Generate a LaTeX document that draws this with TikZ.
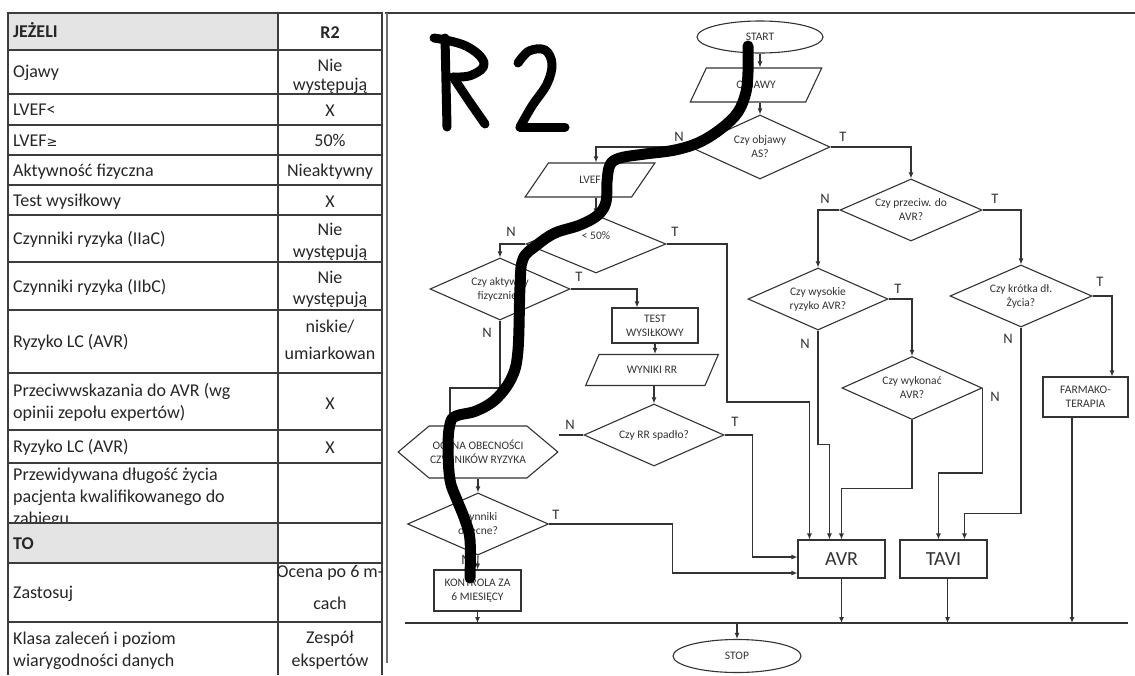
\documentclass[tikz,border=0pt]{standalone}
\usepackage{fontspec}
\setmainfont{Carlito}
\newfontfamily\djv{DejaVu Sans}
\usetikzlibrary{shapes.geometric,shapes.symbols,calc,arrows.meta}
\definecolor{ln}{HTML}{333333}
\definecolor{tl}{HTML}{3C3C3C}
\definecolor{hd}{HTML}{E4E4E4}
\definecolor{tx}{HTML}{262626}
\begin{document}
\begin{tikzpicture}[x=1pt,y=-1pt,
  fc/.style={draw=ln, line width=1.1pt, text=ln, font=\fontsize{11.5}{14}\selectfont, align=center, inner sep=1pt},
  dec/.style={fc, diamond, aspect=2.3, minimum width=140pt, minimum height=62pt},
  para/.style={fc, trapezium, trapezium left angle=55, trapezium right angle=125, trapezium stretches=true, minimum width=132pt, minimum height=34pt},
  boxn/.style={fc, rectangle},
  term/.style={fc, ellipse, minimum width=126pt, minimum height=32pt},
  arr/.style={draw=ln, line width=1.1pt, -{Latex[length=6pt,width=5pt]}},
  cn/.style={draw=ln, line width=1.1pt},
  lab/.style={text=ln, font=\fontsize{14.5}{14.5}\selectfont, inner sep=0pt},
  mk/.style={black, line width=11pt, line cap=round, line join=round},
  tline/.style={draw=tl, line width=2pt},
  tb/.style={text=tx, font=\fontsize{18}{21}\selectfont, inner sep=0pt},
  tbl/.style={tb, anchor=base west},
  tbc/.style={tb, anchor=base}
]
\useasboundingbox (0,0) rectangle (1135,675);
\fill[white] (0,0) rectangle (1135,675);

% ---------------- table ----------------
\fill[hd] (8,13) rectangle (278,50);
\fill[hd] (8,523) rectangle (278,563);
\begin{scope}
\clip (8,463) rectangle (278,522);
\node[tbl] (c12a) at (13,480) {Przewidywana długość życia};
\node[tbl] (c12b) at (13,502) {pacjenta kwalifikowanego do};
\node[tbl] (c12c) at (13,524) {zabiegu};
\end{scope}
\foreach \yy in {13,50,94,125,155,185,215,262,310,373,430,463,523,563,622}
  \draw[tline] (8,\yy) -- (382,\yy);
\draw[tline] (8,12) -- (8,675);
\draw[tline] (278,12) -- (278,675);
\draw[tline] (382,12) -- (382,675);

\node[tbl] (c1) at (13,37) {\bfseries JEŻELI};
\node[tbl] (c2) at (13,77) {Ojawy};
\node[tbl] (c3) at (13,115) {LVEF<};
\node[tbl] (c4) at (13,146) {LVEF{\djv\fontsize{13}{13}\selectfont ≥}};
\node[tbl] (c5) at (13,176) {Aktywność fizyczna};
\node[tbl] (c6) at (13,206) {Test wysiłkowy};
\node[tbl] (c7) at (13,244) {Czynniki ryzyka (IIaC)};
\node[tbl] (c8) at (13,292) {Czynniki ryzyka (IIbC)};
\node[tbl] (c9) at (13,347) {Ryzyko LC (AVR)};
\node[tbl] (c10a) at (13,396) {Przeciwwskazania do AVR (wg};
\node[tbl] (c10b) at (13,418) {opinii zepołu expertów)};
\node[tbl] (c11) at (13,452) {Ryzyko LC (AVR)};
\node[tbl] (c13) at (13,549) {\bfseries TO};
\node[tbl] (c14) at (13,598) {Zastosuj};
\node[tbl] (c15a) at (13,644) {Klasa zaleceń i poziom};
\node[tbl] (c15b) at (13,666) {wiarygodności danych};

\node[tbc] (d1) at (330,38) {\bfseries R2};
\node[tbc] (d2a) at (330,71) {Nie};
\node[tbc] (d2b) at (330,90) {występują};
\node[tbc] (d3) at (330,116) {X};
\node[tbc] (d4) at (330,146) {50\%};
\node[tbc] (d5) at (330,176) {Nieaktywny};
\node[tbc] (d6) at (330,207) {X};
\node[tbc] (d7a) at (330,235) {Nie};
\node[tbc] (d7b) at (330,257) {występują};
\node[tbc] (d8a) at (330,283) {Nie};
\node[tbc] (d8b) at (330,304) {występują};
\node[tbc] (d9a) at (330,332) {niskie/};
\node[tbc] (d9b) at (330,359) {umiarkowan};
\node[tbc] (d10) at (330,409) {X};
\node[tbc] (d11) at (330,453) {X};
\node[tbc] (d14a) at (330,577) {Ocena po 6 m-};
\node[tbc] (d14b) at (330,609) {cach};
\node[tbc] (d15a) at (330,643) {Zespół};
\node[tbc] (d15b) at (330,666) {ekspertów};

% ---------------- flowchart frame ----------------
\draw[draw=tl, line width=1.8pt] (385,13) -- (1135,13);
\draw[draw=ln!70, line width=1.2pt] (387,13) -- (387,663);

% ---------------- nodes ----------------
\node[term] (start) at (760,37) {START};
\node[para] (objawy) at (756,85) {OBJAWY};
\node[dec, minimum height=64pt] (asq) at (760,147) {Czy objawy\\AS?};
\node[para, minimum width=130pt] (lvef) at (590,180) {LVEF};
\node[dec, minimum height=58pt] (lt50) at (596,244) {};
\node[fc, draw=none] (lt50t) at (596,236) {< 50\%};
\node[dec] (akt) at (500,289) {Czy aktywny\\fizycznie?};
\node[boxn, minimum width=86pt, minimum height=35pt] (test) at (655,325.5) {TEST\\WYSIŁKOWY};
\node[para, minimum width=133pt, minimum height=31pt] (wyn) at (652,370) {WYNIKI RR};
\node[dec] (rr) at (654,435) {Czy RR spadło?};
\node[fc, signal, signal to=west and east, signal pointer angle=80, minimum width=157pt, minimum height=52pt] (hex) at (478,452) {OCENA OBECNOŚCI\\CZYNNIKÓW RYZYKA};
\node[dec, minimum width=141pt] (czo) at (478,524) {Czynniki\\obecne?};
\node[boxn, minimum width=87pt, minimum height=41pt] (kon) at (477.5,590.5) {KONTROLA ZA\\6 MIESIĘCY};
\node[dec, minimum width=142pt] (prz) at (911,210) {Czy przeciw. do\\AVR?};
\node[dec] (wys) at (818,299) {Czy wysokie\\ryzyko AVR?};
\node[dec, minimum height=63pt] (wyk) at (912,388) {Czy wykonać\\AVR?};
\node[dec, minimum width=142pt] (kro) at (1021,296) {Czy krótka dł.\\Życia?};
\node[boxn, minimum width=85pt, minimum height=40pt] (farm) at (1085.5,397) {FARMAKO-\\TERAPIA};
\node[boxn, minimum width=87pt, minimum height=38pt, font=\fontsize{20}{20}\selectfont] (avr) at (841.5,559) {AVR};
\node[boxn, minimum width=87pt, minimum height=38pt, font=\fontsize{20}{20}\selectfont] (tavi) at (943.5,559) {TAVI};
\node[term, minimum width=128pt, minimum height=33pt] (stop) at (737,656) {STOP};
\coordinate (bl) at (405,623);
\coordinate (br) at (1128,623);
\coordinate (fa) at ($(farm.south)+(-13.5,0)$);
\coordinate (ta) at ($(tavi.south)+(4,0)$);

% ---------------- connectors ----------------
\draw[arr] (start.south) -- (start.south |- objawy.north);
\draw[arr] (objawy.south -| asq.north) -- (asq.north);
\draw[arr] (asq.west) -| (lt50.north |- lvef.north);
\draw[arr] (lt50.north |- lvef.south) -- (lt50.north);
\draw[arr] (asq.east) -| (prz.north);
\draw[arr] (lt50.east) -| (727,402) -| ($(avr.north west)+(12,0)$);
\draw[arr] (lt50.west) -| (akt.north);
\draw[arr] (akt.east) -| ($(test.north)+(-18,0)$);
\draw[arr] (akt.south) -- (500,388) -| ($(hex.north)+(-28,0)$);
\draw[arr] (test.south) -- (test.south |- wyn.north);
\draw[arr] (wyn.south -| rr.north) -- (rr.north);
\draw[cn] (rr.west) -- (rr.west -| hex.east);
\draw[arr] (rr.east) -| ($(avr.west)+(-45,-2)$) -- ($(avr.west)+(0,-2)$);
\draw[arr] (hex.south) -- (czo.north);
\draw[arr] (czo.east) -| ($(avr.west)+(-125,14)$) -- ($(avr.west)+(0,14)$);
\draw[arr] (czo.south) -- (kon.north);
\draw[arr] (kon.south) -- (kon.south |- bl);
\draw[arr] (prz.west) -| (wys.north);
\draw[arr] (prz.east) -| (kro.north);
\draw[arr] (wys.south) |- ($(avr.north west)+(32,-95)$) -- ($(avr.north west)+(32,0)$);
\draw[arr] (wys.east) -| (wyk.north);
\draw[arr] (wyk.south) |- ($(avr.north west)+(44,-51)$) -- ($(avr.north west)+(44,0)$);
\draw[arr] (wyk.east) -- ++(0,85) -| ($(tavi.north west)+(39,0)$);
\draw[arr] (kro.south) |- ($(tavi.north west)+(65,-26)$) -- ($(tavi.north west)+(65,0)$);
\draw[arr] (kro.east) -| ($(farm.north)+(26.5,0)$);
\draw[arr] (fa) -- (fa |- bl);
\draw[arr] (avr.south) -- (avr.south |- bl);
\draw[arr] (ta) -- (ta |- bl);
\draw[cn] (bl) -- (br);
\draw[arr] (stop.north |- bl) -- (stop.north);

% ---------------- labels ----------------
\node[lab] (l1) at (679,137) {N};
\node[lab] (l2) at (843,137) {T};
\node[lab] (l3) at (511,232) {N};
\node[lab] (l4) at (675,232) {T};
\node[lab] (l5) at (579,277) {T};
\node[lab] (l6) at (487,333) {N};
\node[lab] (l7) at (570,425) {N};
\node[lab] (l8) at (735,422) {T};
\node[lab] (l9) at (556,515) {T};
\node[lab] (l10) at (466,560) {N};
\node[lab] (l11) at (825,199) {N};
\node[lab] (l12) at (995,199) {T};
\node[lab] (l13) at (898,289) {T};
\node[lab] (l14) at (805,344) {N};
\node[lab] (l15) at (995,397) {N};
\node[lab] (l16) at (1100,282) {T};
\node[lab] (l17) at (1008,339) {N};

% ---------------- hand-drawn marker ----------------
\draw[mk] (748,46) -- (748,72) plot[smooth, tension=0.6] coordinates {(748,72) (746,92) (738,112) (722,128) (700,142) (675,150) (645,154) (620,158) (610,165) (607,182) (606,202) (598,215) (580,225) (555,233) (537,245) (523,259) (520,287) (518,350) (512,377) (496,399) (476,411) (456,416) (450,424) (448,447) (450,480) (457,500) (465,520) (470,540) (470,578)};
\draw[mk, line width=9pt] (445,38) -- (447,127);
\draw[mk, line width=9pt] plot[smooth, tension=0.7] coordinates {(434,38) (466,46) (484,63) (472,75) (453,77)};
\draw[mk, line width=9pt] (453,77) -- (469,101) -- (485,124);
\draw[mk, line width=9pt] plot[smooth, tension=0.6] coordinates {(518,63) (529,51) (545,50) (552,64) (547,84) (532,106) (520,127)};
\draw[mk, line width=9pt] (520,127) -- (565,127);
\end{tikzpicture}
\end{document}
